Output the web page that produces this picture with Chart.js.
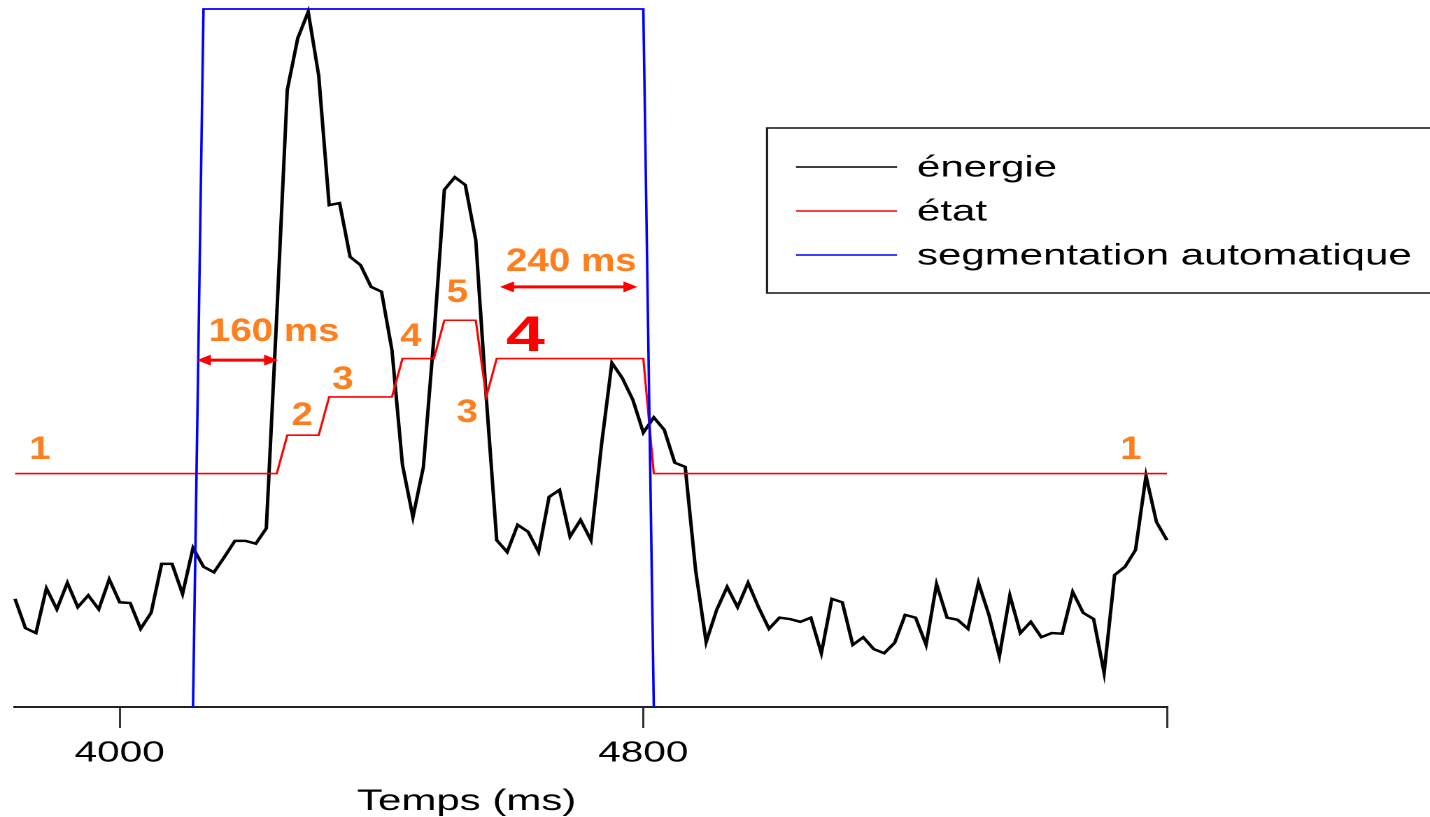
<!DOCTYPE html>
<html lang="fr">
<head>
<meta charset="utf-8">
<title>Énergie, état et segmentation automatique</title>
<script src="https://cdn.jsdelivr.net/npm/chart.js@4.4.1/dist/chart.umd.min.js"></script>
<style>
    html, body { margin: 0; padding: 0; background: #fff; overflow: hidden; }
    /* la figure d'origine est étirée en largeur : on dessine à 1022 px puis on étire */
    #wrap { position: absolute; left: 0; top: 0; width: 1022px; height: 817px;
            transform: scaleX(1.3992); transform-origin: 0 0; }
</style>
</head>
<body>
<div id="wrap"><canvas id="chart1"></canvas></div>
<script>
// trames de 16 ms (axe des temps en ms)
const frameTimes = [
    3840, 3856, 3872, 3888, 3904, 3920, 3936, 3952, 3968, 3984,
    4000, 4016, 4032, 4048, 4064, 4080, 4096, 4112, 4128, 4144,
    4160, 4176, 4192, 4208, 4224, 4240, 4256, 4272, 4288, 4304,
    4320, 4336, 4352, 4368, 4384, 4400, 4416, 4432, 4448, 4464,
    4480, 4496, 4512, 4528, 4544, 4560, 4576, 4592, 4608, 4624,
    4640, 4656, 4672, 4688, 4704, 4720, 4736, 4752, 4768, 4784,
    4800, 4816, 4832, 4848, 4864, 4880, 4896, 4912, 4928, 4944,
    4960, 4976, 4992, 5008, 5024, 5040, 5056, 5072, 5088, 5104,
    5120, 5136, 5152, 5168, 5184, 5200, 5216, 5232, 5248, 5264,
    5280, 5296, 5312, 5328, 5344, 5360, 5376, 5392, 5408, 5424,
    5440, 5456, 5472, 5488, 5504, 5520, 5536, 5552, 5568, 5584,
    5600
];
// énergie (unités arbitraires, 0..100)
const energy = [
    15.5, 11.3, 10.6, 17.0, 14.0, 17.8, 14.3, 16.0, 14.0, 18.3,
    15.0, 14.9, 11.2, 13.5, 20.5, 20.5, 16.2, 22.8, 20.1, 19.3,
    21.5, 23.8, 23.8, 23.4, 25.6, 56.2, 88.4, 95.8, 99.6, 90.5,
    71.9, 72.2, 64.5, 63.3, 60.2, 59.5, 51.1, 34.7, 27.2, 34.4,
    52.9, 74.1, 75.9, 74.8, 66.9, 44.4, 23.9, 22.2, 26.1, 25.1,
    22.2, 30.1, 31.1, 24.4, 26.8, 23.9, 37.5, 49.3, 47.1, 44.0,
    39.3, 41.5, 39.7, 35.0, 34.4, 19.5, 9.3, 13.9, 17.2, 14.3,
    17.8, 14.3, 11.2, 12.8, 12.6, 12.2, 12.8, 7.7, 15.5, 15.0,
    8.9, 10.0, 8.3, 7.7, 9.2, 13.2, 12.8, 8.9, 17.6, 12.8,
    12.5, 11.2, 17.8, 13.2, 7.3, 16.0, 10.6, 12.2, 10.0, 10.6,
    10.5, 16.5, 13.5, 12.6, 4.9, 18.9, 20.1, 22.5, 33.1, 26.5,
    23.9
];

// état (sommets de la courbe rouge)
const stateTimes = [3840, 4240, 4256, 4304, 4320, 4416, 4432, 4480, 4496, 4544, 4560, 4576, 4800, 4816, 5600];
const stateValues = [1, 1, 2, 2, 3, 3, 4, 4, 5, 5, 3, 4, 4, 1, 1];

// segmentation automatique (0 = silence, 1 = segment)
const segTimes = [4112, 4128, 4800, 4816];
const segValues = [0, 1, 1, 0];

// axe des x
const xTickValues = [4000, 4800, 5600];
const xTickLabels = ['4000', '4800', ''];
const xTitle = 'Temps (ms)';

const seriesNames = ['énergie', 'état', 'segmentation automatique'];
const seriesColors = ['#000000', '#ff0000', '#0000ff'];

const FONT = "'Liberation Sans', Arial, Helvetica, sans-serif";
const ORANGE = '#ff7f1e';

// annotations : texte posé en (temps, état)
const annotations = [
    { text: '1', t: 3878, s: 1.61 },
    { text: '160 ms', t: 4236, s: 4.69 },
    { text: '2', t: 4279, s: 2.50 },
    { text: '3', t: 4341, s: 3.44 },
    { text: '4', t: 4445, s: 4.56 },
    { text: '5', t: 4516, s: 5.71 },
    { text: '3', t: 4531, s: 2.58 },
    { text: '4', t: 4620, s: 4.56, big: true },
    { text: '240 ms', t: 4690, s: 6.52 },
    { text: '1', t: 5545, s: 1.61 }
];
// flèches doubles (début, fin, état)
const arrows = [
    { t1: 4118, t2: 4242, s: 3.96 },
    { t1: 4581, t2: 4791, s: 5.87 }
];

function toPoints(xs, ys) {
    return xs.map((x, i) => ({ x: x, y: ys[i] }));
}

function drawArrow(c, x1, x2, y) {
    const head = 10, half = 5.5;
    c.strokeStyle = '#ff0000';
    c.fillStyle = '#ff0000';
    c.lineWidth = 3;
    c.beginPath();
    c.moveTo(x1 + head - 1, y);
    c.lineTo(x2 - head + 1, y);
    c.stroke();
    c.beginPath();
    c.moveTo(x1, y); c.lineTo(x1 + head, y - half); c.lineTo(x1 + head, y + half);
    c.closePath(); c.fill();
    c.beginPath();
    c.moveTo(x2, y); c.lineTo(x2 - head, y - half); c.lineTo(x2 - head, y + half);
    c.closePath(); c.fill();
}

// dessine les annotations, la légende encadrée et le titre de l'axe
const figureExtras = {
    id: 'figureExtras',
    afterDatasetsDraw(chart) {
        const c = chart.ctx;
        const x = chart.scales.x;
        const ys = chart.scales.yState;
        c.save();
        arrows.forEach(a => {
            drawArrow(c, x.getPixelForValue(a.t1), x.getPixelForValue(a.t2), ys.getPixelForValue(a.s));
        });
        c.textAlign = 'center';
        c.textBaseline = 'middle';
        annotations.forEach(a => {
            c.save();
            c.translate(x.getPixelForValue(a.t), ys.getPixelForValue(a.s));
            // les chiffres orange sont plus étroits que le reste du texte
            c.scale(a.big ? 1 : 0.86, 1);
            c.fillStyle = a.big ? '#ff0000' : ORANGE;
            c.font = a.big ? 'bold 50px ' + FONT : 'bold 32px ' + FONT;
            c.fillText(a.text, 0, 0);
            c.restore();
        });
        c.restore();
    },
    afterDraw(chart) {
        const c = chart.ctx;
        const x = chart.scales.x;
        c.save();
        // légende
        const boxL = 548.2, boxT = 128, boxB = 293;
        c.fillStyle = '#ffffff';
        c.fillRect(boxL, boxT, chart.width + 10 - boxL, boxB - boxT);
        c.strokeStyle = '#222';
        c.lineWidth = 1.6;
        c.strokeRect(boxL, boxT, chart.width + 10 - boxL, boxB - boxT);
        const rows = [167, 211, 255];
        c.font = '30px ' + FONT;
        c.textAlign = 'left';
        c.textBaseline = 'middle';
        seriesNames.forEach((name, i) => {
            c.strokeStyle = seriesColors[i];
            c.lineWidth = 1.5;
            c.beginPath();
            c.moveTo(568.9, rows[i]);
            c.lineTo(641.1, rows[i]);
            c.stroke();
            c.fillStyle = '#000';
            c.fillText(name, 655.4, rows[i] + 1);
        });
        // titre de l'axe des temps
        c.font = '30px ' + FONT;
        c.textAlign = 'center';
        c.textBaseline = 'alphabetic';
        c.fillStyle = '#000';
        c.fillText(xTitle, x.getPixelForValue(4530), 810);
        c.restore();
    }
};

const ctx = document.querySelector('#chart1');
if (ctx) {
new Chart(ctx, {
    type: 'line',
    data: {
        datasets: [
            {
                label: seriesNames[2],
                data: toPoints(segTimes, segValues),
                yAxisID: 'ySeg',
                borderColor: seriesColors[2],
                borderWidth: 1.8,
                pointRadius: 0,
                tension: 0,
                clip: false,
                order: 0
            },
            {
                label: seriesNames[1],
                data: toPoints(stateTimes, stateValues),
                yAxisID: 'yState',
                borderColor: seriesColors[1],
                borderWidth: 1.6,
                pointRadius: 0,
                tension: 0,
                order: 1
            },
            {
                label: seriesNames[0],
                data: toPoints(frameTimes, energy),
                yAxisID: 'y',
                borderColor: seriesColors[0],
                borderWidth: 2.5,
                pointRadius: 0,
                tension: 0,
                clip: 4,
                order: 2
            }
        ]
    },
    options: {
        responsive: true,
        maintainAspectRatio: false,
        animation: false,
        devicePixelRatio: 2,
        layout: {
            padding: { left: 10.7, right: 188, top: 9, bottom: 0 }
        },
        scales: {
            x: {
                type: 'linear',
                min: 3840,
                max: 5600,
                afterBuildTicks: (scale) => {
                    scale.ticks = xTickValues.map(v => ({ value: v }));
                },
                afterFit: (scale) => { scale.height = 110; }, // zone de l'axe fixée
                grid: {
                    drawOnChartArea: false,
                    drawTicks: true,
                    tickLength: 21,
                    color: '#333',
                    lineWidth: 1.5
                },
                border: { display: true, color: '#222', width: 2 },
                ticks: {
                    autoSkip: false,
                    maxRotation: 0,
                    padding: 8,
                    color: '#000',
                    font: { family: FONT, size: 29 },
                    callback: function (value) {
                        const i = xTickValues.indexOf(value);
                        return i >= 0 ? xTickLabels[i] : '';
                    }
                }
            },
            y: { display: false, min: 0, max: 100 },
            yState: { display: false, min: -5.09, max: 13.12 },
            ySeg: { display: false, min: 0, max: 1 }
        },
        plugins: {
            legend: { display: false },
            tooltip: { enabled: false }
        }
    },
    plugins: [figureExtras]
});
}
</script>
</body>
</html>
